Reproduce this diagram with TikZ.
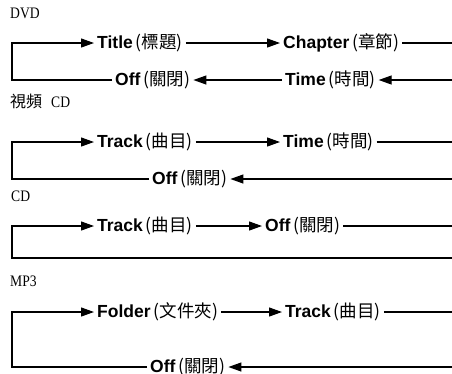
\documentclass[tikz,border=0pt]{standalone}
\usepackage{fontspec}
\setmainfont{Liberation Serif}
\setsansfont{Liberation Sans}
\newfontfamily\cjk{Noto Sans CJK TC}
\newfontfamily\lbl[FakeStretch=0.85]{Liberation Serif}
\usepackage{tikz}
\usetikzlibrary{arrows.meta}

% option text: bold latin word + bracketed chinese
\newcommand{\opttext}[2]{{\sffamily\bfseries #1}{\cjk\,(#2)}}

\begin{document}
\begin{tikzpicture}[
  x=1pt, y=-1pt,
  opt/.style={font=\fontsize{17.5}{17.5}\selectfont, anchor=west, inner xsep=3pt, inner ysep=2pt},
  grp/.style={font=\fontsize{16}{16}\selectfont, anchor=west, inner sep=0pt},
  wire/.style={line width=1.2pt},
  tip/.style={wire, -{Triangle[length=13pt, width=9pt]}},
]
  \useasboundingbox (0,0) rectangle (452,373);
  \clip (0,0) rectangle (452,373);

  % Row ends: left return line at x=12, right side runs off the page
  \foreach \n/\y in {1/43, 2/80, 3/142, 4/179, 5/226, 6/258, 7/312, 8/367} {
    \coordinate (l\n) at (12,\y);
    \coordinate (r\n) at (460,\y);
  }

  % Group headings
  \node[grp] (dvd) at (10,13) {\lbl DVD};
  \node[grp] (vcd) at (10,101) {{\cjk 視頻}\hspace{9pt}{\lbl CD}};
  \node[grp] (cd)  at (11,196) {\lbl CD};
  \node[grp] (mp3) at (10,281) {\lbl MP3};

  % Options (name, x, row y, english, chinese)
  \foreach \nm/\x/\y/\en/\zh in {%
    title/94/43/Title/標題,%
    chapter/280/43/Chapter/章節,%
    offa/112/80/Off/關閉,%
    timea/282/80/Time/時間,%
    tracka/94/142/Track/曲目,%
    timeb/280/142/Time/時間,%
    offb/149/179/Off/關閉,%
    trackb/94/226/Track/曲目,%
    offc/262/226/Off/關閉,%
    folder/94/312/Folder/文件夾,%
    trackc/282/312/Track/曲目,%
    offd/147/367/Off/關閉%
  }{
    \node[opt] (\nm) at (\x,\y) {\opttext{\en}{\zh}};
  }

  % DVD
  \draw[tip] (title) -- (chapter);
  \draw[wire] (chapter) -- (r1);
  \draw[tip] (r2) -- (timea);
  \draw[tip] (timea) -- (offa);
  \draw[tip] (offa) -- (l2) -- (l1) -- (title);

  % Video CD
  \draw[tip] (tracka) -- (timeb);
  \draw[wire] (timeb) -- (r3);
  \draw[tip] (r4) -- (offb);
  \draw[tip] (offb) -- (l4) -- (l3) -- (tracka);

  % CD
  \draw[tip] (trackb) -- (offc);
  \draw[wire] (offc) -- (r5);
  \draw[tip] (r6) -- (l6) -- (l5) -- (trackb);

  % MP3
  \draw[tip] (folder) -- (trackc);
  \draw[wire] (trackc) -- (r7);
  \draw[tip] (r8) -- (offd);
  \draw[tip] (offd) -- (l8) -- (l7) -- (folder);
\end{tikzpicture}
\end{document}
